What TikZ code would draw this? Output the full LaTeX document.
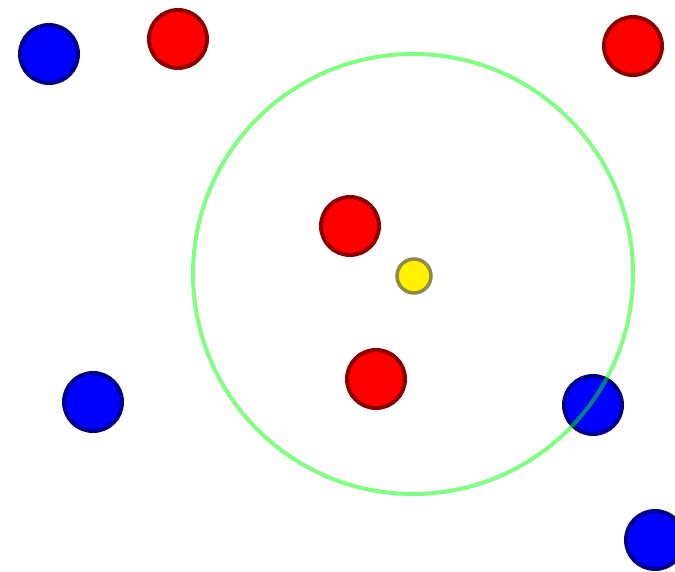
\documentclass[tikz,border=0pt]{standalone}
\begin{document}
\begin{tikzpicture}[x=1pt,y=-1pt,
  ball/.style={circle,line width=4pt,minimum size=58pt,inner sep=0pt},
  blueball/.style={ball,fill=blue,draw=blue!55!black},
  redball/.style={ball,fill=red,draw=red!55!black},
  yellowball/.style={ball,fill=yellow,draw=yellow!50!black,minimum size=34pt,line width=3.5pt},
  ring/.style={draw=green,draw opacity=0.5,line width=4pt}]
\useasboundingbox (0,0) rectangle (675,572);
\node[blueball] (b1) at (49,54) {};
\node[blueball] (b2) at (93,402) {};
\node[blueball] (b3) at (593,405) {};
\node[blueball] (b4) at (655,540) {};
\node[redball] (r1) at (178,39) {};
\node[redball] (r2) at (633,46) {};
\node[redball] (r3) at (350,226) {};
\node[redball] (r4) at (376,379) {};
\node[yellowball] (y) at (414,276) {};
\draw[ring] (413,274) circle[radius=220];
\end{tikzpicture}
\end{document}
